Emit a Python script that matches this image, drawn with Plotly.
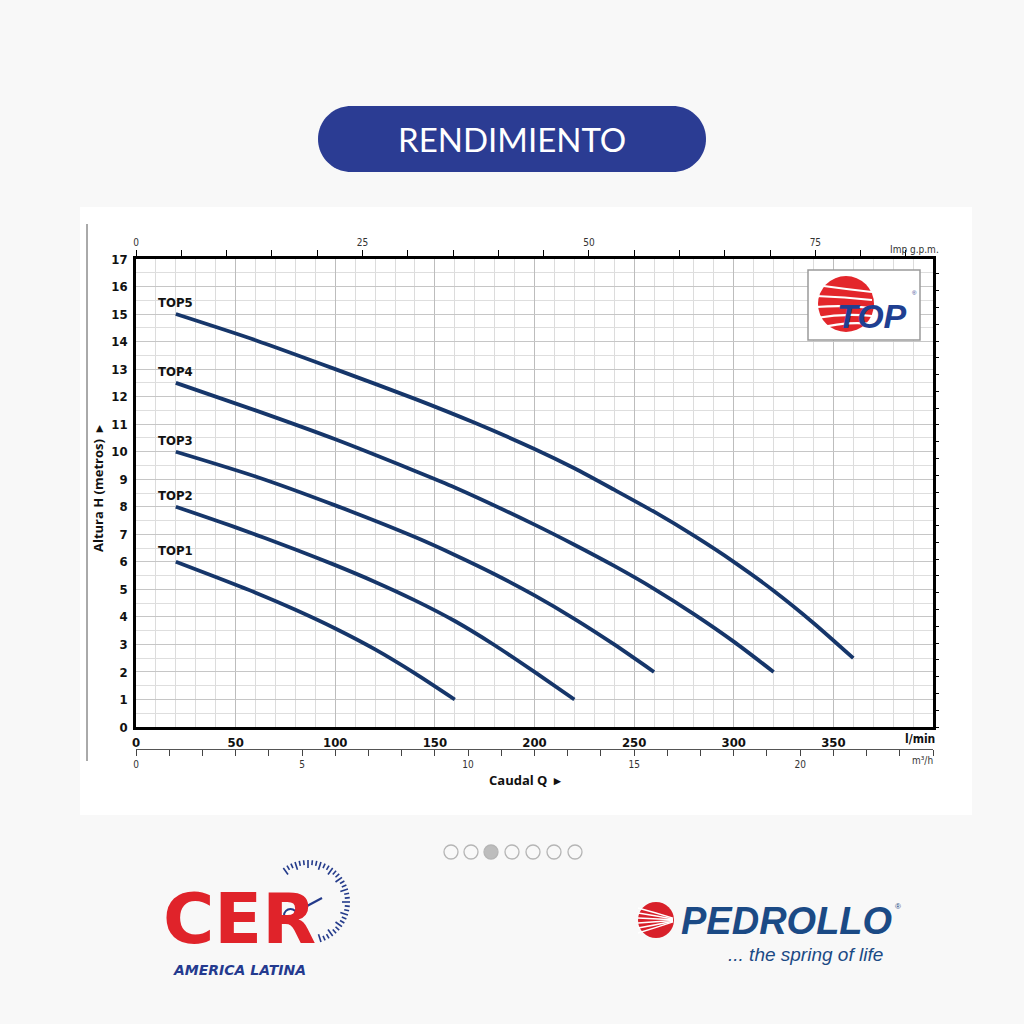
import math
import plotly.graph_objects as go

# ---------------- data ----------------
series_names = ["TOP1", "TOP2", "TOP3", "TOP4", "TOP5"]
q_top1 = [20, 40, 60, 80, 100, 120, 140, 160]
h_top1 = [6.0, 5.45, 4.88, 4.26, 3.58, 2.82, 1.95, 1.0]
q_top2 = [20, 50, 80, 100, 120, 140, 160, 180, 200, 220]
h_top2 = [8.0, 7.25, 6.45, 5.88, 5.27, 4.6, 3.85, 2.97, 2.0, 1.0]
q_top3 = [20, 60, 100, 140, 160, 180, 200, 220, 240, 260]
h_top3 = [10.0, 9.1, 8.05, 6.9, 6.25, 5.55, 4.78, 3.93, 3.0, 2.0]
q_top4 = [20, 60, 100, 140, 160, 200, 220, 240, 260, 280, 300, 320]
h_top4 = [12.5, 11.5, 10.45, 9.3, 8.7, 7.35, 6.62, 5.85, 5.02, 4.1, 3.1, 2.0]
q_top5 = [20, 60, 100, 140, 170, 200, 220, 240, 260, 280, 300, 320, 340, 360]
h_top5 = [15.0, 14.05, 13.0, 11.92, 11.05, 10.1, 9.4, 8.62, 7.82, 6.95, 6.0, 4.95, 3.78, 2.5]

x_lmin_ticks = [0, 50, 100, 150, 200, 250, 300, 350]
x_gpm_ticks = [0, 25, 50, 75]
x_m3h_ticks = [0, 5, 10, 15, 20]
y_ticks = list(range(0, 18))

# ---------------- geometry helpers (pixels -> paper) ----------------
L, R_, T, B = 136, 933, 259, 749
PW, PH = R_ - L, B - T
def px(x):
    return (x - L) / PW
def py(y):
    return (B - y) / PH
ydom0 = (B - 727) / PH

COND = "Liberation Sans Narrow, DejaVu Sans Condensed, Roboto Condensed, Arial Narrow, Roboto, sans-serif"
SANS = "Open Sans, Lato, Liberation Sans, sans-serif"
NAVY = "#16366a"

fig = go.Figure()
annotations = []
for name, q, h in zip(series_names,
                      [q_top1, q_top2, q_top3, q_top4, q_top5],
                      [h_top1, h_top2, h_top3, h_top4, h_top5]):
    fig.add_trace(go.Scatter(x=q, y=h, mode="lines", name=name,
                             line=dict(color=NAVY, width=3.8, shape="spline", smoothing=0.7),
                             xaxis="x", yaxis="y", showlegend=False, hoverinfo="skip"))
    annotations.append(dict(x=q[0], y=h[0], xref="x", yref="y", text="<b>%s</b>" % name,
                            showarrow=False, xanchor="center", yanchor="bottom", yshift=2,
                            font=dict(family=COND, size=13, color="#111")))

# invisible traces to activate auxiliary axes
fig.add_trace(go.Scatter(x=[0], y=[0], xaxis="x2", yaxis="y", mode="markers",
                         marker=dict(opacity=0), showlegend=False, hoverinfo="skip"))
fig.add_trace(go.Scatter(x=[0], y=[0], xaxis="x3", yaxis="y", mode="markers",
                         marker=dict(opacity=0), showlegend=False, hoverinfo="skip"))
fig.add_trace(go.Scatter(x=[0], y=[0], xaxis="x", yaxis="y2", mode="markers",
                         marker=dict(opacity=0), showlegend=False, hoverinfo="skip"))

shapes = []
# white chart card
shapes.append(dict(type="rect", xref="paper", yref="paper", x0=px(80), x1=px(972),
                   y0=py(815), y1=py(207), fillcolor="white", line=dict(width=0), layer="below"))
# left thin vertical rule
shapes.append(dict(type="line", xref="paper", yref="paper", x0=px(87), x1=px(87),
                   y0=py(224), y1=py(761), line=dict(color="#555", width=1)))

# title pill
def pill_path(x0, y0, x1, y1):
    r = (y1 - y0) / 2
    cy = (y0 + y1) / 2
    pts = []
    for i in range(0, 41):
        a = -math.pi / 2 + math.pi * i / 40
        pts.append((x1 - r + r * math.cos(a), cy + r * math.sin(a)))
    for i in range(0, 41):
        a = math.pi / 2 + math.pi * i / 40
        pts.append((x0 + r + r * math.cos(a), cy + r * math.sin(a)))
    return "M " + " L ".join("%.5f,%.5f" % (px(a), py(b)) for a, b in pts) + " Z"
shapes.append(dict(type="path", xref="paper", yref="paper", path=pill_path(318, 106, 706, 172),
                   fillcolor="#2b3c93", line=dict(width=0), layer="below"))

# TOP logo box
shapes.append(dict(type="rect", xref="paper", yref="paper", x0=px(808), x1=px(920),
                   y0=py(340), y1=py(270), fillcolor="white", line=dict(color="#9a9a9a", width=1.5)))
shapes.append(dict(type="circle", xref="paper", yref="paper", x0=px(818), x1=px(874),
                   y0=py(332), y1=py(276), fillcolor="#e3262b", line=dict(width=0)))
for yy, bend in [(291, -6), (299, -3), (307, 0), (315, 3), (323, 6)]:
    path = "M %.5f,%.5f Q %.5f,%.5f %.5f,%.5f" % (px(816), py(yy + bend), px(845), py(yy - 2),
                                                   px(872), py(yy + 1))
    shapes.append(dict(type="path", xref="paper", yref="paper", path=path,
                       line=dict(color="white", width=2.2)))

# Pedrollo logo mark
shapes.append(dict(type="circle", xref="paper", yref="paper", x0=px(638), x1=px(674),
                   y0=py(938), y1=py(902), fillcolor="#d8202a", line=dict(width=0)))
for yy in [908, 913, 918, 923, 928, 933]:
    path = "M %.5f,%.5f Q %.5f,%.5f %.5f,%.5f" % (px(638), py(yy), px(656), py(yy + (920 - yy) * 0.4),
                                                   px(673), py(920 + (yy - 920) * 0.15))
    shapes.append(dict(type="path", xref="paper", yref="paper", path=path,
                       line=dict(color="white", width=1.4)))

# CER dial
cx, cy, rr = 308, 902, 42
n = 0
ang = 126
while ang >= -72:
    a = math.radians(ang)
    ln = 8 if n % 3 == 0 else 5
    x0 = cx + (rr - ln) * math.cos(a); y0 = cy - (rr - ln) * math.sin(a)
    x1 = cx + rr * math.cos(a); y1 = cy - rr * math.sin(a)
    shapes.append(dict(type="line", xref="paper", yref="paper", x0=px(x0), y0=py(y0),
                       x1=px(x1), y1=py(y1), line=dict(color="#233a8a", width=1.6)))
    ang -= 6
    n += 1
shapes.append(dict(type="line", xref="paper", yref="paper", x0=px(294), y0=py(913),
                   x1=px(322), y1=py(898), line=dict(color="#233a8a", width=2.2)))
shapes.append(dict(type="circle", xref="paper", yref="paper", x0=px(284), x1=px(297),
                   y0=py(922), y1=py(909), fillcolor="white", line=dict(color="#233a8a", width=2)))

# pagination dots
for i, xc in enumerate([451, 471, 491, 512, 533, 554, 575]):
    shapes.append(dict(type="circle", xref="paper", yref="paper", x0=px(xc - 7), x1=px(xc + 7),
                       y0=py(859), y1=py(845),
                       fillcolor="#bdbdbd" if i == 2 else "rgba(0,0,0,0)",
                       line=dict(color="#b5b5b5", width=1.3)))

annotations += [
    dict(xref="paper", yref="paper", x=px(512), y=py(139), text="RENDIMIENTO", showarrow=False,
         font=dict(family="Lato, Open Sans, sans-serif", size=33, color="white"),
         xanchor="center", yanchor="middle"),
    dict(xref="paper", yref="paper", x=px(914), y=py(249), text="Imp g.p.m.", showarrow=False,
         font=dict(family=COND, size=10, color="#333"), xanchor="center", yanchor="middle"),
    dict(xref="paper", yref="paper", x=px(920), y=py(739), text="<b>l/min</b>", showarrow=False,
         font=dict(family=COND, size=12, color="#111"), xanchor="center", yanchor="middle"),
    dict(xref="paper", yref="paper", x=px(922), y=py(760), text="m³/h", showarrow=False,
         font=dict(family=COND, size=10, color="#333"), xanchor="center", yanchor="middle"),
    dict(xref="paper", yref="paper", x=px(525), y=py(780), text="<b>Caudal Q  ▸</b>", showarrow=False,
         font=dict(family=SANS, size=13, color="#111"), xanchor="center", yanchor="middle"),
    dict(xref="paper", yref="paper", x=px(98), y=py(488), text="<b>Altura H (metros)  ▸</b>",
         showarrow=False, textangle=-90,
         font=dict(family=SANS, size=13, color="#111"), xanchor="center", yanchor="middle"),
    dict(xref="paper", yref="paper", x=px(872), y=py(316), text="<b><i>TOP</i></b>", showarrow=False,
         font=dict(family="Liberation Sans, Arial, sans-serif", size=34, color="#1f3f91"),
         xanchor="center", yanchor="middle"),
    dict(xref="paper", yref="paper", x=px(914), y=py(293), text="®", showarrow=False,
         font=dict(family="Liberation Sans, sans-serif", size=6, color="#1f3f91"),
         xanchor="center", yanchor="middle"),
    dict(xref="paper", yref="paper", x=px(239), y=py(919), text="<b>CER</b>", showarrow=False,
         font=dict(family="DejaVu Sans, sans-serif", size=70, color="#e0232a"),
         xanchor="center", yanchor="middle"),
    dict(xref="paper", yref="paper", x=px(239), y=py(970), text="<b><i>AMERICA LATINA</i></b>",
         showarrow=False, font=dict(family="DejaVu Sans, sans-serif", size=14, color="#243a8f"),
         xanchor="center", yanchor="middle"),
    dict(xref="paper", yref="paper", x=px(786), y=py(921), text="<b><i>PEDROLLO</i></b>",
         showarrow=False, font=dict(family="Liberation Sans, Arial, sans-serif", size=38, color="#1b4a85"),
         xanchor="center", yanchor="middle"),
    dict(xref="paper", yref="paper", x=px(898), y=py(906), text="®",
         showarrow=False, font=dict(family="Liberation Sans, sans-serif", size=8, color="#1b4a85"),
         xanchor="center", yanchor="middle"),
    dict(xref="paper", yref="paper", x=px(805), y=py(954), text="<i>... the spring of life</i>",
         showarrow=False, font=dict(family="Liberation Sans, Arial, sans-serif", size=19, color="#1b4a85"),
         xanchor="center", yanchor="middle"),
]

fig.update_layout(
    width=1024, height=1024,
    margin=dict(l=L, r=1024 - R_, t=T, b=1024 - B, pad=0),
    paper_bgcolor="#f8f8f8", plot_bgcolor="white",
    showlegend=False,
    xaxis=dict(range=[0, 400], domain=[0, 1], anchor="y",
               tickmode="array", tickvals=x_lmin_ticks, ticktext=[str(v) for v in x_lmin_ticks],
               ticks="", showgrid=True, gridcolor="#bdbdbd", gridwidth=1.3,
               minor=dict(dtick=10, tick0=0, showgrid=True, gridcolor="#dcdcdc", gridwidth=1),
               showline=True, linecolor="black", linewidth=2.5, mirror=True,
               zeroline=False, ticklabelstandoff=2,
               tickfont=dict(family=COND, size=13, color="#111", weight="bold")),
    xaxis2=dict(range=[0, 400 / 4.54609], overlaying="x", side="top", anchor="y",
                tickmode="array", tickvals=x_gpm_ticks, ticktext=[str(v) for v in x_gpm_ticks],
                ticks="outside", ticklen=6, tickcolor="black", tickwidth=1,
                minor=dict(dtick=5, tick0=0, ticks="outside", ticklen=6, tickcolor="black", showgrid=False),
                showgrid=False, zeroline=False, showline=True, linecolor="black", linewidth=2.5,
                tickfont=dict(family=COND, size=10, color="#333")),
    xaxis3=dict(range=[0, 24], overlaying="x", side="bottom", anchor="free", position=0,
                tickmode="array", tickvals=x_m3h_ticks, ticktext=[str(v) for v in x_m3h_ticks],
                ticks="outside", ticklen=6, tickcolor="#444", tickwidth=1,
                minor=dict(dtick=1, tick0=0, ticks="outside", ticklen=6, tickcolor="#444", showgrid=False),
                showgrid=False, zeroline=False, showline=True, linecolor="#555", linewidth=1,
                tickfont=dict(family=COND, size=10, color="#333")),
    yaxis=dict(range=[0, 17], domain=[ydom0, 1], anchor="x",
               tickmode="array", tickvals=y_ticks, ticktext=[str(v) for v in y_ticks],
               ticks="", showgrid=True, gridcolor="#c6c6c6", gridwidth=1.2,
               minor=dict(dtick=0.5, tick0=0, showgrid=True, gridcolor="#dedede", gridwidth=1),
               showline=True, linecolor="black", linewidth=2.5, mirror=True,
               zeroline=False, ticklabelstandoff=3,
               tickfont=dict(family=COND, size=13, color="#111", weight="bold")),
    yaxis2=dict(range=[0, 17 / 0.3048], overlaying="y", side="right", anchor="x",
                dtick=2, tick0=0, ticks="outside", ticklen=5, tickcolor="black",
                showticklabels=False, showgrid=False, zeroline=False, showline=False),
    shapes=shapes,
    annotations=annotations,
)

fig.write_html("out.html",
               config={"displayModeBar": False},
               post_script="document.body.style.margin='0';document.body.style.padding='0';"
                           "document.body.style.background='#f8f8f8';")
